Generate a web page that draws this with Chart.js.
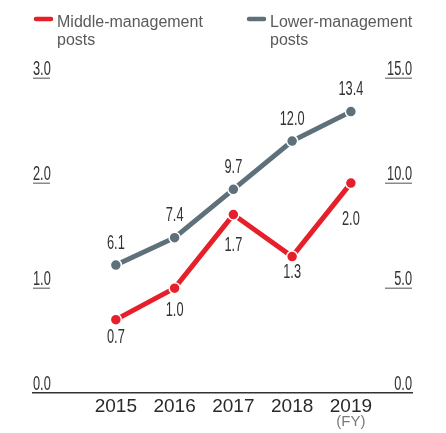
<!DOCTYPE html>
<html>
<head>
<meta charset="utf-8">
<script src="https://cdn.jsdelivr.net/npm/chart.js@4/dist/chart.umd.min.js"></script>
<style>
  html, body { margin: 0; padding: 0; background: #ffffff; }
  #wrap { position: relative; width: 446px; height: 433px; }
</style>
</head>
<body>
<div id="wrap"><canvas id="c" width="446" height="433"></canvas></div>
<script>
// ---- data ----
const years = [2015, 2016, 2017, 2018, 2019];
const middleManagement = [0.7, 1.0, 1.7, 1.3, 2.0];   // left axis
const lowerManagement  = [6.1, 7.4, 9.7, 12.0, 13.4]; // right axis
const leftTicks  = [0, 1, 2, 3];
const rightTicks = [0, 5, 10, 15];
const seriesNames = [["Middle-management", "posts"], ["Lower-management", "posts"]];
const xUnitLabel = "(FY)";

// ---- styles ----
const RED = '#e5202b';
const GREY = '#5e717b';
const NUM_FONT = '"Liberation Sans", "DejaVu Sans", sans-serif';
const TXT_FONT = '"Liberation Sans", "DejaVu Sans", sans-serif';
const NUM_SQUEEZE = 0.64;
const redLabelOffsets  = [18, 22, 31, 16, 36];
const greyLabelOffsets = [-22, -22, -22, -22, -22];

function narrowText(ctx, text, x, y, align) {
  ctx.save();
  ctx.translate(x, y);
  ctx.scale(NUM_SQUEEZE, 1);
  ctx.textAlign = align;
  ctx.fillText(text, 0, 0);
  ctx.restore();
}

const overlayPlugin = {
  id: 'overlay',
  afterDraw(chart) {
    const ctx = chart.ctx;
    const area = chart.chartArea;
    const yL = chart.scales.y, yR = chart.scales.y1, xs = chart.scales.x;
    ctx.save();
    // tick underlines + tick labels
    ctx.strokeStyle = '#8a8a8a';
    ctx.lineWidth = 1.5;
    ctx.fillStyle = '#333333';
    ctx.font = '20px ' + NUM_FONT;
    ctx.textBaseline = 'middle';
    leftTicks.forEach(v => {
      const py = yL.getPixelForValue(v);
      if (v !== 0) {
        const ly = Math.round(py) + 0.25;
        ctx.beginPath(); ctx.moveTo(area.left, ly); ctx.lineTo(area.left + 17, ly); ctx.stroke();
      }
      narrowText(ctx, v.toFixed(1), area.left, py - 8.5, 'left');
    });
    rightTicks.forEach(v => {
      const py = yR.getPixelForValue(v);
      if (v !== 0) {
        const ly = Math.round(py) + 0.25;
        ctx.beginPath(); ctx.moveTo(area.right - 27, ly); ctx.lineTo(area.right, ly); ctx.stroke();
      }
      narrowText(ctx, v.toFixed(1), area.right, py - 8.5, 'right');
    });
    // data labels
    const values = [middleManagement, lowerManagement];
    const offs = [redLabelOffsets, greyLabelOffsets];
    values.forEach((vals, di) => {
      const meta = chart.getDatasetMeta(di);
      meta.data.forEach((pt, i) => {
        narrowText(ctx, vals[i].toFixed(1), pt.x, pt.y + offs[di][i], 'center');
      });
    });
    // (FY)
    ctx.fillStyle = '#7a7a7a';
    ctx.font = '15px ' + TXT_FONT;
    ctx.textAlign = 'center';
    ctx.textBaseline = 'top';
    ctx.fillText(xUnitLabel, xs.getPixelForValue(years[years.length - 1]), 414);
    // legend
    const legendX = [34, 247];
    const colors = [RED, GREY];
    ctx.textAlign = 'left';
    ctx.textBaseline = 'alphabetic';
    ctx.font = '16px ' + TXT_FONT;
    seriesNames.forEach((lines, i) => {
      ctx.strokeStyle = colors[i];
      ctx.lineWidth = 4.5;
      ctx.lineCap = 'round';
      ctx.beginPath(); ctx.moveTo(legendX[i] + 2, 19); ctx.lineTo(legendX[i] + 17, 19); ctx.stroke();
      ctx.fillStyle = '#5a5a5a';
      lines.forEach((t, j) => ctx.fillText(t, legendX[i] + 23, 27 + j * 18));
    });
    ctx.restore();
  }
};

new Chart(document.getElementById('c'), {
  type: 'line',
  data: {
    datasets: [
      {
        label: seriesNames[0].join(' '),
        data: middleManagement.map((v, i) => ({ x: years[i], y: v })),
        yAxisID: 'y',
        borderColor: RED, backgroundColor: RED,
        borderWidth: 5, pointRadius: 5.5, pointBorderWidth: 1.5,
        pointBorderColor: '#ffffff', pointBackgroundColor: RED,
        tension: 0, clip: false
      },
      {
        label: seriesNames[1].join(' '),
        data: lowerManagement.map((v, i) => ({ x: years[i], y: v })),
        yAxisID: 'y1',
        borderColor: GREY, backgroundColor: GREY,
        borderWidth: 5, pointRadius: 5.5, pointBorderWidth: 1.5,
        pointBorderColor: '#ffffff', pointBackgroundColor: GREY,
        tension: 0, clip: false
      }
    ]
  },
  options: {
    responsive: false,
    animation: false,
    devicePixelRatio: 1,
    layout: { padding: { left: 33, right: 34, top: 78, bottom: 13 } },
    plugins: { legend: { display: false }, tooltip: { enabled: false } },
    scales: {
      x: {
        type: 'linear', min: 2013.59, max: 2020.04,
        afterBuildTicks: s => { s.ticks = years.map(v => ({ value: v })); },
        grid: { display: false, drawTicks: false },
        border: { display: true, color: '#333333', width: 1.5 },
        ticks: { padding: 2, color: '#2a2a2a', font: { family: TXT_FONT, size: 19 }, callback: v => String(v), maxRotation: 0, autoSkip: false }
      },
      y: {
        position: 'left', min: 0, max: 3,
        afterBuildTicks: s => { s.ticks = leftTicks.map(v => ({ value: v })); },
        grid: { display: false, drawTicks: false },
        border: { display: false },
        ticks: { display: false }
      },
      y1: {
        position: 'right', min: 0, max: 15,
        afterBuildTicks: s => { s.ticks = rightTicks.map(v => ({ value: v })); },
        grid: { display: false, drawTicks: false },
        border: { display: false },
        ticks: { display: false }
      }
    }
  },
  plugins: [overlayPlugin]
});
</script>
</body>
</html>
